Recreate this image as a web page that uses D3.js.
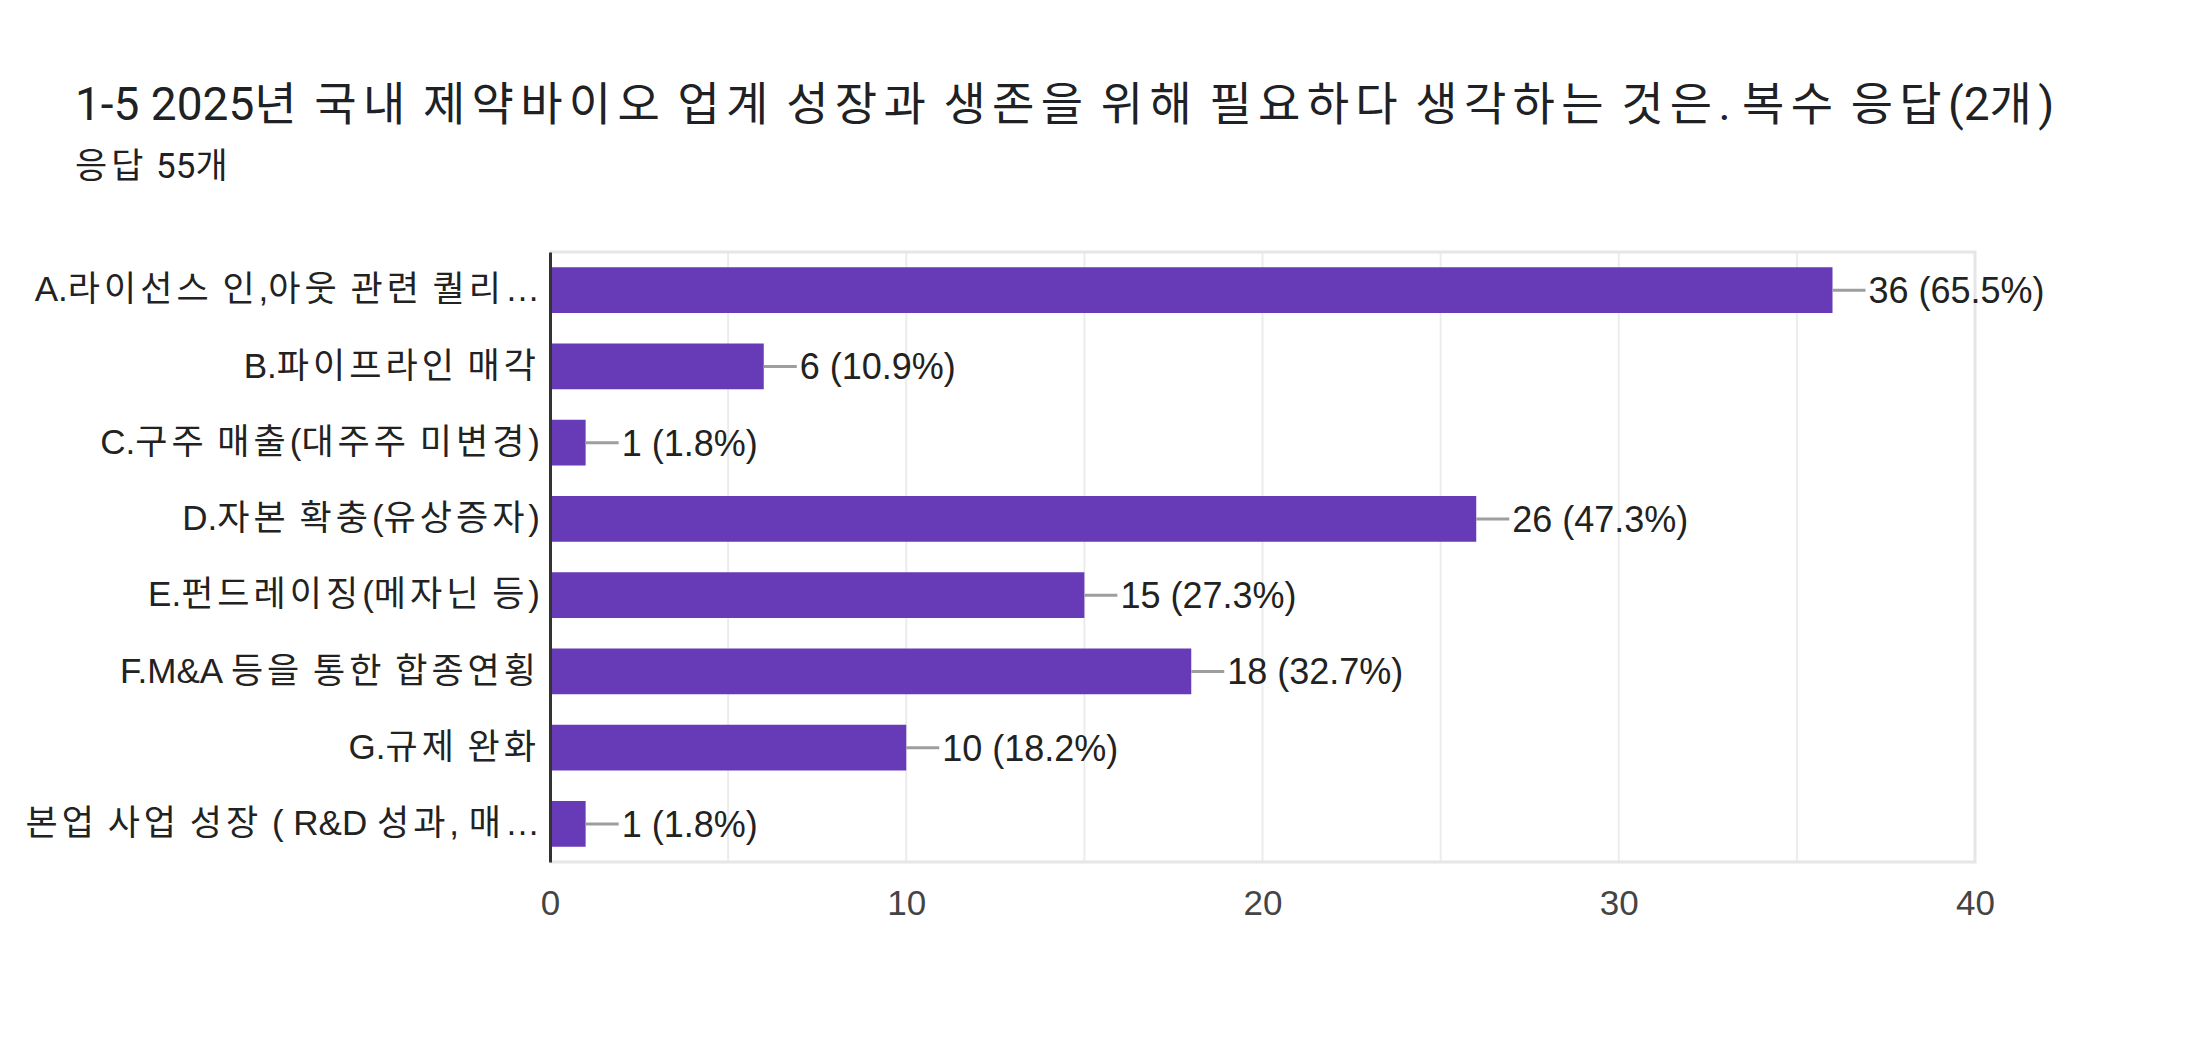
<!DOCTYPE html>
<html><head><meta charset="utf-8">
<script src="https://cdn.jsdelivr.net/npm/d3@7"></script>
<style>
html,body{margin:0;padding:0;background:#fff;}
svg{display:block;}
</style></head>
<body>
<svg id="c" width="2196" height="1044"></svg>
<script>
const titleText = "1-5 2025년 국내 제약바이오 업계 성장과 생존을 위해 필요하다 생각하는 것은. 복수 응답(2개)";
const subtitleText = "응답 55개";
const categories = [
  "A.라이선스 인,아웃 관련 퀄리…",
  "B.파이프라인 매각",
  "C.구주 매출(대주주 미변경)",
  "D.자본 확충(유상증자)",
  "E.펀드레이징(메자닌 등)",
  "F.M&A 등을 통한 합종연횡",
  "G.규제 완화",
  "본업 사업 성장 ( R&D 성과, 매…"
];
const counts = [36, 6, 1, 26, 15, 18, 10, 1];
const percents = ["65.5%", "10.9%", "1.8%", "47.3%", "27.3%", "32.7%", "18.2%", "1.8%"];
const tickValues = [0, 10, 20, 30, 40];
const gridValues = [5, 10, 15, 20, 25, 30, 35];

const svg = d3.select("#c");
const L = 550, R = 1975, T = 252, B = 862;
const labelFont = "'Liberation Sans', Arial, 'Noto Sans CJK KR', sans-serif";
const titleFont = "Roboto, 'Noto Sans CJK KR', sans-serif";

// fill a text node, giving Hangul runs a little extra tracking
function fillRuns(sel, str, hangulSpacing) {
  sel.text(null);
  const parts = str.split(/([\uAC00-\uD7A3]+)/);
  parts.forEach(p => {
    if (!p) return;
    const t = sel.append("tspan").text(p);
    if (/[\uAC00-\uD7A3]/.test(p)) t.attr("letter-spacing", hangulSpacing);
  });
}

const title = svg.append("text").attr("x", 75).attr("y", 120)
  .attr("font-family", titleFont).attr("font-size", 46).attr("fill", "#202124");
fillRuns(title, titleText, 6.3);
const sub = svg.append("text").attr("x", 75).attr("y", 178)
  .attr("font-family", titleFont).attr("font-size", 35).attr("fill", "#202124");
fillRuns(sub, subtitleText, 4);

const x = d3.scaleLinear().domain([0, 40]).range([L, R]);
const y = d3.scaleBand().domain(categories).range([T, B]).paddingInner(0.4).paddingOuter(0.2);

// gridlines
svg.append("g").selectAll("line").data(gridValues).join("line")
  .attr("x1", d => x(d)).attr("x2", d => x(d)).attr("y1", T).attr("y2", B)
  .attr("stroke", "#ececec").attr("stroke-width", 2);
// frame
svg.append("path").attr("d", `M${L},${T}H${R}V${B}H${L}`)
  .attr("fill", "none").attr("stroke", "#e6e6e6").attr("stroke-width", 3);

// bars
svg.append("g").selectAll("rect").data(counts).join("rect")
  .attr("x", x(0)).attr("y", (d, i) => y(categories[i]))
  .attr("width", d => x(d) - x(0)).attr("height", y.bandwidth())
  .attr("fill", "#673ab7");

// connectors + value labels
svg.append("g").selectAll("line").data(counts).join("line")
  .attr("x1", d => x(d)).attr("x2", d => x(d) + 33)
  .attr("y1", (d, i) => y(categories[i]) + y.bandwidth() / 2)
  .attr("y2", (d, i) => y(categories[i]) + y.bandwidth() / 2)
  .attr("stroke", "#9e9e9e").attr("stroke-width", 3);
svg.append("g").selectAll("text").data(counts).join("text")
  .attr("x", d => x(d) + 36)
  .attr("y", (d, i) => y(categories[i]) + y.bandwidth() / 2)
  .attr("dy", "0.36em")
  .attr("font-family", labelFont).attr("font-size", 36).attr("fill", "#222")
  .text((d, i) => `${d} (${percents[i]})`);

// y axis
const yAxis = svg.append("g").attr("transform", `translate(${L},0)`)
  .call(d3.axisLeft(y).tickSize(0).tickPadding(10));
yAxis.select(".domain").attr("stroke", "#333").attr("stroke-width", 3);
yAxis.selectAll(".tick text").attr("font-family", labelFont).attr("font-size", 35).attr("fill", "#222")
  .each(function(d) { fillRuns(d3.select(this), d, 4); });

// x axis
const xAxis = svg.append("g").attr("transform", `translate(0,${B})`)
  .call(d3.axisBottom(x).tickValues(tickValues).tickSize(0).tickPadding(28));
xAxis.select(".domain").remove();
xAxis.selectAll("text").attr("font-family", labelFont).attr("font-size", 35).attr("fill", "#444");
</script>
</body></html>
